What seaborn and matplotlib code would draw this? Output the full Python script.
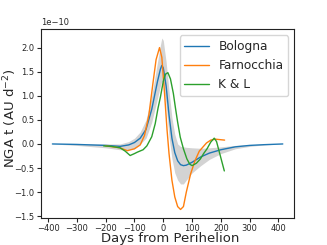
import numpy as np
import pandas as pd
import matplotlib
matplotlib.use("Agg")
import matplotlib.pyplot as plt
import seaborn as sns

# Bologna (with uncertainty band)
bol_days = [-385, -300, -200, -150, -120, -100, -80, -60, -40, -20, -10, -5, 0, 10, 20, 30,
            40, 50, 60, 70, 80, 100, 130, 160, 200, 250, 300, 350, 415]
bol_vals = [0.0, -0.01, -0.03, -0.05, -0.02, 0.03, 0.12, 0.30, 0.72, 1.30, 1.55, 1.63, 1.58,
            1.20, 0.60, 0.12, -0.18, -0.35, -0.43, -0.45, -0.44, -0.38, -0.27, -0.19, -0.12,
            -0.06, -0.03, -0.015, 0.0]
band_hi = [0.0, 0.0, 0.0, 0.0, 0.05, 0.12, 0.25, 0.50, 1.00, 1.70, 2.05, 2.20, 2.15, 1.70,
           1.10, 0.55, 0.20, 0.00, -0.05, -0.06, -0.07, -0.08, -0.09, -0.08, -0.06, -0.03,
           -0.015, -0.005, 0.0]
band_lo = [0.0, -0.03, -0.08, -0.12, -0.12, -0.10, 0.0, 0.12, 0.45, 0.95, 1.20, 1.30, 1.25,
           0.80, 0.15, -0.30, -0.60, -0.75, -0.83, -0.83, -0.75, -0.60, -0.45, -0.32, -0.20,
           -0.10, -0.05, -0.02, 0.0]

# Farnocchia
far_days = [-200, -150, -125, -100, -80, -65, -50, -35, -25, -13, -5, 5, 13, 20, 30, 40, 50,
            60, 70, 80, 95, 110, 125, 150, 165, 180, 213]
far_vals = [-0.04, -0.08, -0.14, -0.10, -0.02, 0.18, 0.60, 1.30, 1.75, 2.00, 1.80, 1.00, 0.30,
            -0.20, -0.75, -1.10, -1.30, -1.36, -1.30, -1.00, -0.62, -0.35, -0.15, 0.02, 0.08,
            0.10, 0.08]

# K & L
kl_days = [-207, -180, -150, -132, -115, -100, -90, -70, -57, -40, -28, -18, -10, 0, 8, 16, 25,
           35, 42, 50, 59, 70, 82, 92, 100, 115, 129, 140, 152, 165, 177, 185, 212]
kl_vals = [-0.04, -0.05, -0.08, -0.15, -0.24, -0.20, -0.17, -0.12, -0.04, 0.15, 0.42, 0.75,
           0.97, 1.30, 1.45, 1.48, 1.35, 1.05, 0.76, 0.45, 0.14, -0.10, -0.31, -0.42, -0.45,
           -0.40, -0.31, -0.20, -0.10, 0.04, 0.12, 0.05, -0.56]

scale = 1e-10

df = pd.concat([
    pd.DataFrame({"day": bol_days, "nga": np.array(bol_vals) * scale, "model": "Bologna"}),
    pd.DataFrame({"day": far_days, "nga": np.array(far_vals) * scale, "model": "Farnocchia"}),
    pd.DataFrame({"day": kl_days, "nga": np.array(kl_vals) * scale, "model": "K & L"}),
], ignore_index=True)

sns.set_style("ticks")
plt.rcParams["font.family"] = ["DejaVu Sans"]

fig, ax = plt.subplots(figsize=(3.27, 2.45), dpi=100)
fig.subplots_adjust(left=0.125, right=0.9, top=0.88, bottom=0.11)

ax.fill_between(bol_days, np.array(band_lo) * scale, np.array(band_hi) * scale,
                color="#d3d3d3", alpha=1.0, linewidth=0, zorder=1)

sns.lineplot(data=df, x="day", y="nga", hue="model", sort=False, estimator=None,
             palette=["#1f77b4", "#ff7f0e", "#2ca02c"], linewidth=1.0, ax=ax, zorder=2)

ax.set_xlabel("Days from Perihelion", fontsize=9.5)
ax.set_ylabel("NGA t (AU d$^{-2}$)", fontsize=9.5)
ax.xaxis.set_label_coords(0.51, -0.075)
ax.yaxis.set_label_coords(-0.085, 0.53)
ax.tick_params(labelsize=6, length=3, width=0.8, pad=1.5)
ax.yaxis.get_offset_text().set_fontsize(6)
ax.set_xticks([-400, -300, -200, -100, 0, 100, 200, 300, 400])
ax.set_yticks(np.array([-1.5, -1.0, -0.5, 0.0, 0.5, 1.0, 1.5, 2.0]) * scale)

leg = ax.legend(loc="upper right", fontsize=8.7, title=None, frameon=True)

for s in ax.spines.values():
    s.set_visible(True)
    s.set_linewidth(0.8)
    s.set_color("#222222")

fig.savefig("out.png", dpi=100)
